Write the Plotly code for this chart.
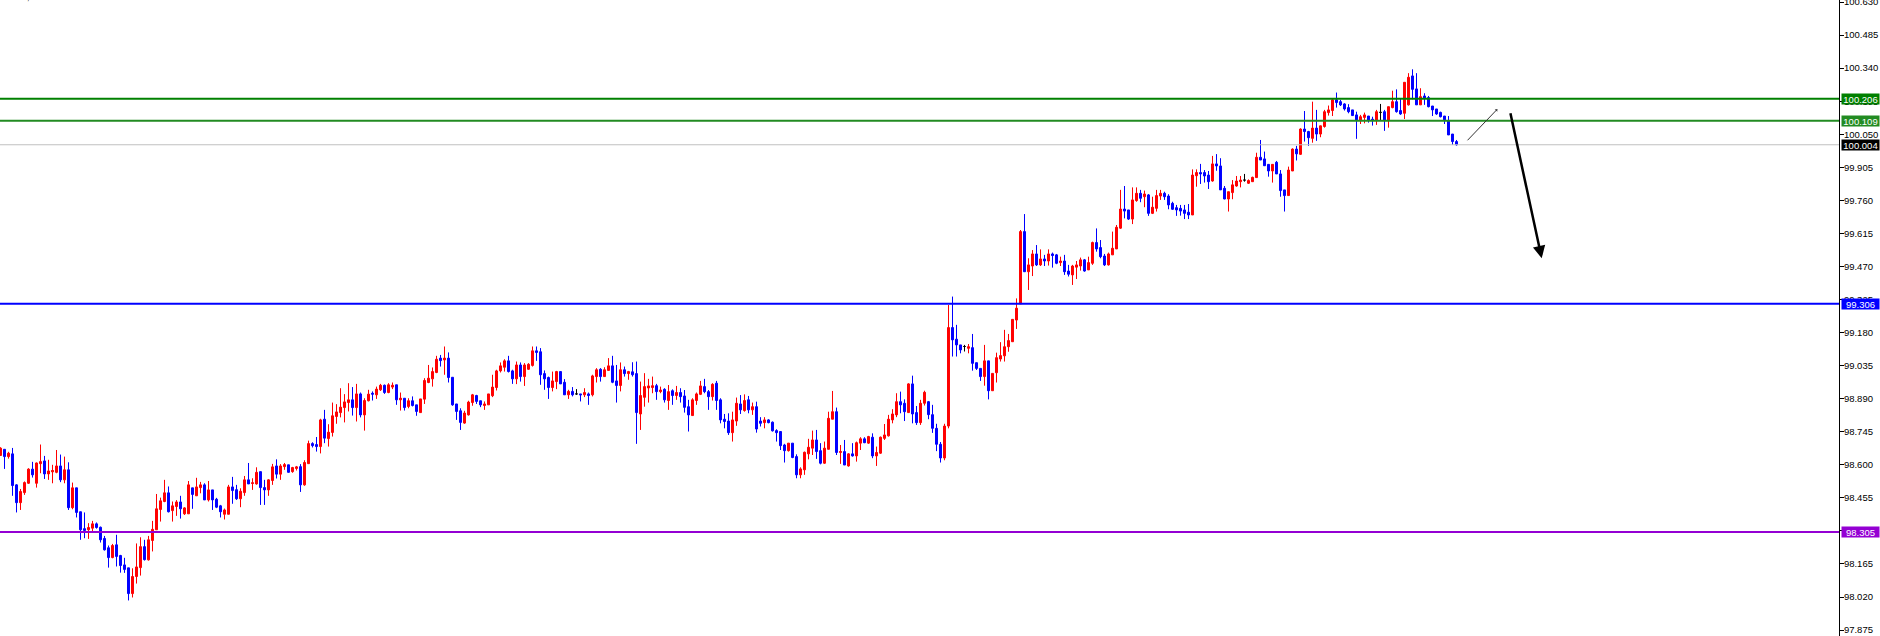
"""H4 candlestick chart with horizontal levels, MT4 style."""
import plotly.graph_objects as go

OPEN = [
    98.641, 98.668, 98.636, 98.648, 98.512, 98.434, 98.478, 98.519, 98.581, 98.519,
    98.605, 98.617, 98.560, 98.569, 98.567, 98.595, 98.534, 98.578, 98.412, 98.499,
    98.394, 98.320, 98.315, 98.322, 98.341, 98.326, 98.277, 98.236, 98.193, 98.249,
    98.202, 98.161, 98.148, 98.035, 98.110, 98.149, 98.241, 98.183, 98.268, 98.315,
    98.404, 98.439, 98.477, 98.399, 98.417, 98.437, 98.385, 98.385, 98.499, 98.464,
    98.500, 98.512, 98.446, 98.490, 98.449, 98.420, 98.383, 98.383, 98.503, 98.491,
    98.451, 98.478, 98.534, 98.518, 98.516, 98.570, 98.500, 98.490, 98.531, 98.595,
    98.559, 98.592, 98.600, 98.570, 98.584, 98.592, 98.512, 98.605, 98.693, 98.689,
    98.680, 98.800, 98.715, 98.742, 98.812, 98.829, 98.851, 98.873, 98.885, 98.851,
    98.911, 98.819, 98.881, 98.914, 98.907, 98.929, 98.949, 98.917, 98.941, 98.951,
    98.885, 98.892, 98.856, 98.881, 98.863, 98.829, 98.888, 98.961, 98.977, 99.005,
    99.068, 99.060, 99.068, 98.984, 98.867, 98.837, 98.783, 98.819, 98.873, 98.904,
    98.881, 98.860, 98.863, 98.903, 98.939, 99.012, 99.028, 99.056, 99.012, 98.977,
    99.038, 98.987, 99.019, 99.036, 99.100, 99.096, 99.000, 98.983, 98.939, 98.965,
    99.009, 98.962, 98.907, 98.922, 98.911, 98.911, 98.907, 98.911, 98.907, 98.987,
    99.019, 98.987, 99.014, 99.034, 98.968, 98.948, 99.017, 99.000, 99.008, 99.000,
    98.823, 98.896, 98.937, 98.939, 98.947, 98.921, 98.931, 98.882, 98.925, 98.904,
    98.917, 98.902, 98.855, 98.816, 98.882, 98.909, 98.943, 98.921, 98.899, 98.958,
    98.885, 98.800, 98.792, 98.741, 98.792, 98.867, 98.838, 98.885, 98.841, 98.855,
    98.792, 98.785, 98.797, 98.787, 98.750, 98.746, 98.687, 98.662, 98.695, 98.636,
    98.556, 98.578, 98.648, 98.673, 98.709, 98.662, 98.607, 98.668, 98.800, 98.833,
    98.654, 98.658, 98.595, 98.648, 98.639, 98.695, 98.714, 98.695, 98.721, 98.639,
    98.651, 98.716, 98.727, 98.797, 98.819, 98.877, 98.870, 98.829, 98.955, 98.829,
    98.785, 98.870, 98.877, 98.820, 98.760, 98.690, 98.630, 98.770, 99.202, 99.151,
    99.126, 99.119, 99.111, 99.114, 99.048, 99.023, 98.987, 99.056, 98.925, 99.004,
    99.064, 99.078, 99.118, 99.140, 99.235, 99.306, 99.623, 99.447, 99.472, 99.525,
    99.477, 99.503, 99.494, 99.525, 99.521, 99.487, 99.494, 99.450, 99.433, 99.467,
    99.472, 99.499, 99.455, 99.484, 99.575, 99.553, 99.516, 99.477, 99.521, 99.547,
    99.638, 99.722, 99.718, 99.678, 99.759, 99.791, 99.776, 99.784, 99.703, 99.725,
    99.779, 99.791, 99.779, 99.747, 99.728, 99.725, 99.718, 99.708, 99.696, 99.868,
    99.882, 99.882, 99.871, 99.845, 99.920, 99.911, 99.813, 99.766, 99.794, 99.823,
    99.842, 99.849, 99.835, 99.842, 99.860, 99.949, 99.942, 99.918, 99.889, 99.927,
    99.876, 99.806, 99.781, 99.889, 99.985, 99.962, 100.073, 100.062, 100.032, 100.077,
    100.051, 100.084, 100.145, 100.154, 100.201, 100.193, 100.183, 100.167, 100.157, 100.135,
    100.110, 100.124, 100.130, 100.116, 100.110, 100.146, 100.149, 100.110, 100.167, 100.193,
    100.154, 100.142, 100.179, 100.306, 100.249, 100.179, 100.218, 100.211, 100.174, 100.161,
    100.146, 100.130, 100.108, 100.051, 100.018,
]

HIGH = [
    98.677, 98.668, 98.657, 98.674, 98.515, 98.494, 98.527, 98.585, 98.613, 98.610,
    98.689, 98.639, 98.622, 98.600, 98.665, 98.645, 98.636, 98.611, 98.522, 98.499,
    98.394, 98.391, 98.344, 98.354, 98.347, 98.329, 98.288, 98.246, 98.253, 98.293,
    98.205, 98.192, 98.148, 98.146, 98.255, 98.282, 98.271, 98.288, 98.354, 98.472,
    98.456, 98.534, 98.505, 98.439, 98.445, 98.464, 98.414, 98.529, 98.499, 98.543,
    98.525, 98.519, 98.529, 98.490, 98.455, 98.424, 98.408, 98.512, 98.547, 98.512,
    98.497, 98.551, 98.608, 98.541, 98.589, 98.570, 98.534, 98.537, 98.604, 98.624,
    98.603, 98.608, 98.600, 98.591, 98.595, 98.603, 98.620, 98.706, 98.699, 98.722,
    98.802, 98.841, 98.778, 98.873, 98.866, 98.936, 98.910, 98.958, 98.941, 98.955,
    98.917, 98.892, 98.929, 98.922, 98.943, 98.955, 98.952, 98.958, 98.961, 98.951,
    98.917, 98.892, 98.892, 98.900, 98.863, 98.889, 98.980, 99.038, 99.027, 99.078,
    99.082, 99.119, 99.093, 98.984, 98.867, 98.848, 98.837, 98.881, 98.911, 98.907,
    98.881, 98.878, 98.911, 98.995, 99.017, 99.049, 99.063, 99.078, 99.017, 99.053,
    99.049, 99.046, 99.046, 99.119, 99.119, 99.112, 99.014, 98.987, 99.009, 99.012,
    99.009, 98.976, 98.929, 98.941, 98.932, 98.911, 98.936, 98.917, 98.995, 99.024,
    99.024, 99.028, 99.068, 99.078, 99.038, 99.049, 99.031, 99.012, 99.050, 99.053,
    98.965, 99.002, 98.977, 98.987, 98.955, 98.943, 98.936, 98.950, 98.931, 98.946,
    98.936, 98.928, 98.885, 98.892, 98.917, 98.968, 98.977, 98.928, 98.958, 98.968,
    98.892, 98.823, 98.826, 98.833, 98.895, 98.906, 98.909, 98.902, 98.873, 98.877,
    98.809, 98.809, 98.800, 98.790, 98.756, 98.746, 98.692, 98.695, 98.695, 98.646,
    98.589, 98.658, 98.714, 98.750, 98.753, 98.695, 98.702, 98.833, 98.924, 98.851,
    98.687, 98.709, 98.651, 98.695, 98.702, 98.721, 98.721, 98.727, 98.738, 98.680,
    98.724, 98.779, 98.819, 98.844, 98.914, 98.921, 98.887, 98.958, 98.991, 98.858,
    98.885, 98.925, 98.880, 98.863, 98.780, 98.700, 98.780, 99.301, 99.338, 99.214,
    99.126, 99.126, 99.130, 99.174, 99.048, 99.023, 99.126, 99.056, 99.001, 99.092,
    99.138, 99.192, 99.174, 99.238, 99.330, 99.630, 99.700, 99.506, 99.542, 99.564,
    99.545, 99.521, 99.545, 99.531, 99.525, 99.513, 99.521, 99.477, 99.477, 99.494,
    99.509, 99.503, 99.513, 99.579, 99.637, 99.586, 99.525, 99.531, 99.623, 99.652,
    99.806, 99.823, 99.718, 99.817, 99.817, 99.806, 99.803, 99.788, 99.776, 99.806,
    99.806, 99.798, 99.787, 99.754, 99.740, 99.740, 99.740, 99.744, 99.896, 99.896,
    99.920, 99.893, 99.889, 99.955, 99.963, 99.945, 99.823, 99.798, 99.849, 99.867,
    99.867, 99.876, 99.852, 99.864, 99.969, 100.025, 99.974, 99.918, 99.918, 99.933,
    99.893, 99.806, 99.908, 99.988, 99.999, 100.076, 100.152, 100.065, 100.193, 100.157,
    100.088, 100.157, 100.176, 100.205, 100.233, 100.201, 100.186, 100.182, 100.157, 100.149,
    100.135, 100.145, 100.130, 100.127, 100.157, 100.183, 100.157, 100.171, 100.241, 100.247,
    100.205, 100.278, 100.318, 100.335, 100.318, 100.252, 100.230, 100.218, 100.174, 100.161,
    100.149, 100.130, 100.130, 100.051, 100.025,
]

LOW = [
    98.639, 98.582, 98.627, 98.464, 98.391, 98.402, 98.468, 98.516, 98.544, 98.500,
    98.563, 98.538, 98.534, 98.519, 98.563, 98.524, 98.519, 98.402, 98.405, 98.369,
    98.271, 98.278, 98.275, 98.303, 98.320, 98.259, 98.224, 98.149, 98.190, 98.154,
    98.127, 98.126, 98.005, 98.018, 98.079, 98.114, 98.180, 98.180, 98.220, 98.315,
    98.351, 98.436, 98.391, 98.351, 98.376, 98.364, 98.380, 98.385, 98.407, 98.464,
    98.475, 98.446, 98.439, 98.402, 98.410, 98.369, 98.360, 98.383, 98.429, 98.446,
    98.414, 98.464, 98.516, 98.490, 98.513, 98.424, 98.424, 98.464, 98.512, 98.540,
    98.534, 98.578, 98.566, 98.565, 98.575, 98.481, 98.508, 98.605, 98.676, 98.658,
    98.650, 98.695, 98.680, 98.724, 98.780, 98.808, 98.786, 98.834, 98.816, 98.790,
    98.808, 98.750, 98.878, 98.882, 98.889, 98.924, 98.911, 98.914, 98.932, 98.863,
    98.838, 98.838, 98.848, 98.856, 98.815, 98.829, 98.867, 98.958, 98.943, 99.002,
    99.031, 98.995, 98.961, 98.859, 98.797, 98.753, 98.780, 98.816, 98.859, 98.867,
    98.853, 98.841, 98.863, 98.897, 98.926, 99.005, 99.009, 99.005, 98.955, 98.954,
    98.965, 98.946, 99.017, 99.031, 99.056, 98.951, 98.929, 98.889, 98.922, 98.932,
    98.955, 98.907, 98.889, 98.900, 98.907, 98.878, 98.897, 98.863, 98.900, 98.961,
    98.965, 98.987, 99.014, 98.958, 98.873, 98.922, 98.987, 98.973, 98.987, 98.692,
    98.753, 98.855, 98.873, 98.914, 98.885, 98.914, 98.873, 98.841, 98.863, 98.885,
    98.873, 98.829, 98.746, 98.816, 98.863, 98.906, 98.914, 98.841, 98.882, 98.841,
    98.782, 98.760, 98.731, 98.702, 98.771, 98.823, 98.833, 98.826, 98.819, 98.741,
    98.768, 98.760, 98.782, 98.746, 98.702, 98.665, 98.610, 98.658, 98.629, 98.541,
    98.541, 98.556, 98.624, 98.643, 98.626, 98.602, 98.604, 98.668, 98.800, 98.643,
    98.604, 98.599, 98.592, 98.636, 98.614, 98.665, 98.695, 98.692, 98.629, 98.595,
    98.648, 98.709, 98.724, 98.782, 98.809, 98.826, 98.792, 98.829, 98.782, 98.775,
    98.775, 98.860, 98.800, 98.740, 98.660, 98.610, 98.620, 98.760, 99.075, 99.075,
    99.089, 99.097, 99.089, 99.013, 99.016, 98.968, 98.947, 98.887, 98.925, 98.961,
    99.053, 99.053, 99.096, 99.140, 99.196, 99.306, 99.447, 99.367, 99.428, 99.472,
    99.472, 99.472, 99.474, 99.465, 99.480, 99.472, 99.433, 99.426, 99.389, 99.415,
    99.452, 99.447, 99.455, 99.477, 99.535, 99.506, 99.472, 99.474, 99.521, 99.547,
    99.635, 99.681, 99.674, 99.656, 99.754, 99.752, 99.730, 99.692, 99.700, 99.711,
    99.762, 99.762, 99.721, 99.718, 99.692, 99.693, 99.678, 99.678, 99.696, 99.820,
    99.832, 99.838, 99.810, 99.842, 99.890, 99.806, 99.765, 99.711, 99.765, 99.820,
    99.817, 99.842, 99.832, 99.842, 99.860, 99.937, 99.912, 99.864, 99.838, 99.876,
    99.776, 99.711, 99.781, 99.889, 99.935, 99.959, 100.018, 99.999, 100.013, 100.021,
    100.037, 100.079, 100.132, 100.130, 100.167, 100.174, 100.154, 100.142, 100.130, 100.030,
    100.095, 100.098, 100.101, 100.088, 100.091, 100.110, 100.065, 100.079, 100.164, 100.145,
    100.135, 100.117, 100.176, 100.203, 100.179, 100.179, 100.179, 100.168, 100.130, 100.135,
    100.124, 100.095, 100.047, 100.003, 100.000,
]

CLOSE = [
    98.673, 98.636, 98.651, 98.509, 98.434, 98.483, 98.522, 98.581, 98.556, 98.608,
    98.614, 98.560, 98.573, 98.575, 98.595, 98.534, 98.578, 98.412, 98.499, 98.391,
    98.315, 98.312, 98.325, 98.341, 98.325, 98.271, 98.227, 98.193, 98.246, 98.198,
    98.158, 98.141, 98.035, 98.110, 98.152, 98.241, 98.184, 98.271, 98.317, 98.407,
    98.442, 98.477, 98.394, 98.420, 98.437, 98.407, 98.411, 98.512, 98.470, 98.503,
    98.512, 98.446, 98.490, 98.446, 98.414, 98.394, 98.402, 98.503, 98.487, 98.451,
    98.484, 98.534, 98.516, 98.521, 98.567, 98.500, 98.490, 98.534, 98.591, 98.559,
    98.595, 98.601, 98.567, 98.588, 98.591, 98.512, 98.610, 98.693, 98.684, 98.680,
    98.797, 98.717, 98.743, 98.815, 98.832, 98.853, 98.876, 98.885, 98.851, 98.911,
    98.819, 98.882, 98.910, 98.910, 98.932, 98.949, 98.917, 98.951, 98.949, 98.885,
    98.892, 98.851, 98.881, 98.860, 98.834, 98.889, 98.970, 98.980, 99.009, 99.063,
    99.057, 99.068, 98.983, 98.863, 98.834, 98.786, 98.827, 98.875, 98.907, 98.878,
    98.863, 98.867, 98.911, 98.941, 99.012, 99.034, 99.056, 99.009, 98.977, 99.038,
    98.987, 99.038, 99.041, 99.100, 99.093, 98.995, 98.977, 98.939, 98.968, 99.009,
    98.955, 98.907, 98.922, 98.907, 98.911, 98.907, 98.917, 98.904, 98.990, 99.017,
    98.987, 99.017, 99.034, 98.962, 98.948, 99.017, 99.000, 99.009, 98.995, 98.829,
    98.904, 98.943, 98.946, 98.947, 98.921, 98.928, 98.885, 98.921, 98.904, 98.917,
    98.899, 98.852, 98.819, 98.885, 98.911, 98.946, 98.921, 98.899, 98.953, 98.882,
    98.797, 98.790, 98.741, 98.797, 98.870, 98.841, 98.882, 98.841, 98.855, 98.757,
    98.782, 98.797, 98.785, 98.749, 98.741, 98.684, 98.662, 98.695, 98.632, 98.556,
    98.582, 98.655, 98.677, 98.709, 98.658, 98.607, 98.673, 98.804, 98.833, 98.654,
    98.658, 98.599, 98.648, 98.639, 98.697, 98.714, 98.697, 98.724, 98.639, 98.654,
    98.721, 98.731, 98.800, 98.823, 98.877, 98.863, 98.833, 98.955, 98.823, 98.785,
    98.870, 98.918, 98.820, 98.760, 98.690, 98.630, 98.770, 99.202, 99.148, 99.126,
    99.104, 99.119, 99.118, 99.045, 99.023, 98.987, 99.056, 98.925, 99.001, 99.070,
    99.079, 99.118, 99.145, 99.238, 99.287, 99.623, 99.447, 99.477, 99.525, 99.477,
    99.503, 99.494, 99.525, 99.518, 99.484, 99.494, 99.447, 99.436, 99.472, 99.477,
    99.499, 99.450, 99.487, 99.575, 99.547, 99.513, 99.477, 99.525, 99.550, 99.642,
    99.722, 99.713, 99.678, 99.762, 99.791, 99.769, 99.788, 99.703, 99.730, 99.781,
    99.791, 99.776, 99.740, 99.721, 99.718, 99.713, 99.703, 99.696, 99.871, 99.882,
    99.876, 99.867, 99.842, 99.920, 99.911, 99.806, 99.766, 99.798, 99.828, 99.845,
    99.849, 99.849, 99.847, 99.861, 99.949, 99.937, 99.912, 99.889, 99.918, 99.876,
    99.803, 99.781, 99.893, 99.985, 99.964, 100.073, 100.062, 100.035, 100.077, 100.051,
    100.087, 100.149, 100.157, 100.201, 100.189, 100.179, 100.161, 100.149, 100.132, 100.113,
    100.127, 100.135, 100.110, 100.110, 100.149, 100.146, 100.110, 100.171, 100.193, 100.149,
    100.139, 100.278, 100.300, 100.247, 100.179, 100.215, 100.208, 100.171, 100.157, 100.139,
    100.127, 100.113, 100.047, 100.018, 100.004,
]

# horizontal levels drawn on the chart and their price tags
LEVELS = [100.206, 100.109, 100.004, 99.306, 98.305]
LEVEL_COLORS = ["#008000", "#228b22", "#c0c0c0", "#0000ff", "#9400d3"]
TAG_COLORS = ["#008000", "#228b22", "#000000", "#0000ff", "#9400d3"]
LEVEL_WIDTHS = [2, 2, 1, 2, 2]

HEADER = "USDX,H4  100.011 100.027 99.998 100.004"

BARS = list(range(len(CLOSE)))

UP = "#ff0000"
DOWN = "#0000ff"
DOJI = "#000000"
FONT = "Liberation Sans"


def candles(idx, color):
    style = dict(line=dict(color=color, width=1), fillcolor=color)
    return go.Candlestick(
        x=[BARS[i] for i in idx],
        open=[OPEN[i] for i in idx],
        high=[HIGH[i] for i in idx],
        low=[LOW[i] for i in idx],
        close=[CLOSE[i] for i in idx],
        increasing=style,
        decreasing=style,
        whiskerwidth=0,
        hoverinfo="skip",
        showlegend=False,
    )


up = [i for i in BARS if CLOSE[i] > OPEN[i]]
down = [i for i in BARS if CLOSE[i] < OPEN[i]]
flat = [i for i in BARS if CLOSE[i] == OPEN[i]]

fig = go.Figure([candles(up, UP), candles(down, DOWN), candles(flat, DOJI)])

for level, lc, lw in zip(LEVELS, LEVEL_COLORS, LEVEL_WIDTHS):
    fig.add_shape(type="line", xref="paper", x0=0, x1=1, y0=level, y1=level,
                  line=dict(color=lc, width=lw), layer="above")

for level, tc in zip(LEVELS, TAG_COLORS):
    fig.add_annotation(xref="paper", x=1, y=level, xanchor="left", yanchor="middle",
                       xshift=2, text=f"{level:.3f}", showarrow=False,
                       bgcolor=tc, width=37, height=10, borderpad=0,
                       font=dict(family=FONT, size=9.5, color="white"))

# hand-drawn trend strokes
fig.add_annotation(x=374.2, y=100.160, ax=366.4, ay=100.017, xref="x", yref="y",
                   axref="x", ayref="y", text="", showarrow=True, arrowhead=1,
                   arrowsize=0.6, arrowwidth=1, arrowcolor="#333333")
fig.add_annotation(x=385.3, y=99.506, ax=377.4, ay=100.149, xref="x", yref="y",
                   axref="x", ayref="y", text="", showarrow=True, arrowhead=2,
                   arrowsize=1, arrowwidth=2.5, arrowcolor="#000000")

fig.add_annotation(xref="paper", yref="paper", x=0, y=1, xanchor="left", yanchor="bottom",
                   yshift=-4, text=HEADER, showarrow=False,
                   font=dict(family=FONT, size=9, color="#000000"))

fig.update_layout(
    template="none",
    width=1880,
    height=636,
    margin=dict(l=0, r=41, t=0, b=0, pad=0),
    paper_bgcolor="white",
    plot_bgcolor="white",
    showlegend=False,
    xaxis=dict(range=[-0.125, 459.625], visible=False, rangeslider=dict(visible=False),
               showgrid=False, zeroline=False),
    yaxis=dict(side="right", range=[97.849, 100.639], tick0=97.875, dtick=0.145,
               tickformat=".3f", ticks="outside", ticklen=4, tickwidth=1, tickcolor="black",
               ticklabelstandoff=-2, ticklabeloverflow="allow",
               showline=True, linecolor="black", linewidth=1, showgrid=False, zeroline=False,
               automargin=False, tickfont=dict(family=FONT, size=9.5, color="black")),
)

# the page body has a default 8px margin; drop it so the chart fills the window
fig.write_html(
    "out.html",
    config={"displayModeBar": False},
    post_script="document.body.style.margin='0';document.body.style.overflow='hidden';",
)
